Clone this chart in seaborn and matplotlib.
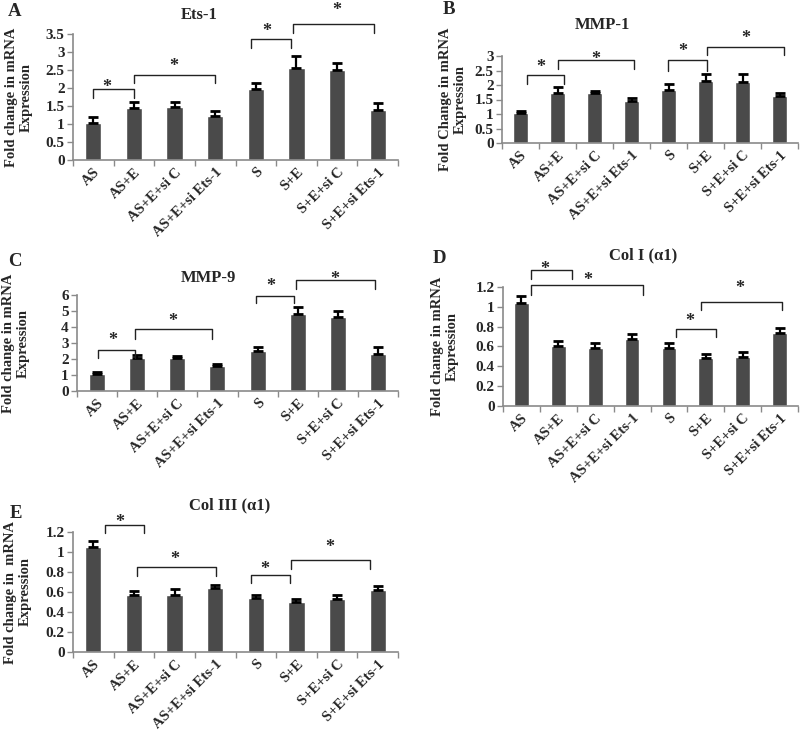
import numpy as np
import pandas as pd
import matplotlib
matplotlib.use("Agg")
import matplotlib.pyplot as plt
from matplotlib.ticker import FuncFormatter, FixedLocator
import seaborn as sns

sns.set_style("ticks")
plt.rcParams['font.family'] = ['Liberation Serif', 'DejaVu Serif']
plt.rcParams['font.weight'] = 'bold'

categories = ["AS", "AS+E", "AS+E+si C", "AS+E+si Ets-1",
              "S", "S+E", "S+E+si C", "S+E+si Ets-1"]

ets1 = [1.04, 1.44, 1.46, 1.21, 1.97, 2.55, 2.50, 1.39]
ets1_err = [0.15, 0.16, 0.16, 0.14, 0.16, 0.34, 0.20, 0.19]

mmp1 = [1.04, 1.72, 1.72, 1.45, 1.84, 2.14, 2.11, 1.62]
mmp1_err = [0.08, 0.22, 0.09, 0.11, 0.21, 0.25, 0.28, 0.10]

mmp9 = [1.04, 2.08, 2.08, 1.55, 2.53, 4.80, 4.63, 2.34]
mmp9_err = [0.12, 0.19, 0.11, 0.12, 0.21, 0.46, 0.38, 0.42]

col1 = [1.035, 0.61, 0.583, 0.675, 0.583, 0.48, 0.49, 0.738]
col1_err = [0.07, 0.05, 0.05, 0.05, 0.05, 0.04, 0.05, 0.048]

col3 = [1.05, 0.57, 0.57, 0.638, 0.545, 0.502, 0.532, 0.62]
col3_err = [0.06, 0.044, 0.057, 0.035, 0.026, 0.033, 0.043, 0.044]

# significance annotations: (x_left, x_right, bracket_top, leg_bottom, star_x, star_y)
sig_A = [(0.00, 0.99, 1.98, 1.72, 0.34, 2.14),
         (1.00, 3.00, 2.37, 2.14, 1.99, 2.73),
         (3.88, 4.87, 3.37, 3.12, 4.28, 3.70),
         (4.91, 6.90, 3.79, 3.54, 5.99, 4.29)]
sig_B = [(0.17, 1.17, 2.34, 2.04, 0.55, 2.79),
         (1.02, 3.07, 2.85, 2.55, 2.04, 3.04),
         (3.99, 5.04, 2.85, 2.50, 4.39, 3.32),
         (5.05, 7.13, 3.32, 3.03, 6.10, 3.78)]
sig_C = [(0.02, 0.94, 2.59, 2.07, 0.40, 3.49),
         (0.94, 2.87, 3.85, 3.22, 1.89, 4.64),
         (3.95, 4.92, 5.94, 5.48, 4.34, 6.84),
         (4.95, 6.92, 6.95, 6.36, 5.92, 7.26)]
sig_D = [(0.27, 1.38, 1.375, 1.284, 0.63, 1.43),
         (0.27, 3.30, 1.224, 1.120, 1.80, 1.32),
         (4.19, 5.27, 0.780, 0.696, 4.56, 0.90),
         (4.88, 7.07, 1.049, 0.965, 5.93, 1.23)]
sig_E = [(0.28, 1.24, 1.273, 1.19, 0.65, 1.34),
         (1.07, 3.01, 0.847, 0.757, 2.00, 0.973),
         (3.87, 4.83, 0.773, 0.690, 4.21, 0.873),
         (4.87, 6.80, 0.923, 0.833, 5.81, 1.09)]

W, H = 800, 732
fig = plt.figure(figsize=(W / 100, H / 100), dpi=100)

BAR = "#4a4a4a"
SPINE = "#8a8a8a"


def px_axes(left, right, y0, ytop):
    return fig.add_axes([left / W, 1 - y0 / H, (right - left) / W, (y0 - ytop) / H])


panels = [
    dict(rect=(73, 398, 160, 34), vals=ets1, err=ets1_err, ymax=3.5, step=0.5,
         title="Ets-1", tpos=(199, 15), letter="A", lpos=(8, 12),
         ylabel="Fold change in mRNA\nExpression", lx=19, sig=sig_A),
    dict(rect=(502, 798, 143, 56), vals=mmp1, err=mmp1_err, ymax=3.0, step=0.5,
         title="MMP-1", tpos=(602, 25), letter="B", lpos=(443, 10),
         ylabel="Fold Change in mRNA\nExpression", lx=453, sig=sig_B),
    dict(rect=(77, 398, 391, 295), vals=mmp9, err=mmp9_err, ymax=6, step=1,
         title="MMP-9", tpos=(208, 278), letter="C", lpos=(8, 261),
         ylabel="Fold change in mRNA\nExpression", lx=16, sig=sig_C),
    dict(rect=(503, 798, 406, 287), vals=col1, err=col1_err, ymax=1.2, step=0.2,
         title="Col I (α1)", tpos=(643, 255), letter="D", lpos=(433, 258),
         ylabel="Fold change in mRNA\nExpression", lx=445, sig=sig_D),
    dict(rect=(73, 398, 652, 532), vals=col3, err=col3_err, ymax=1.2, step=0.2,
         title="Col III (α1)", tpos=(230, 505), letter="E", lpos=(10, 513),
         ylabel="Fold change in  mRNA\nExpression", lx=17.5, sig=sig_E),
]

for p in panels:
    left, right, y0, ytop = p["rect"]
    ax = px_axes(left, right, y0, ytop)
    df = pd.DataFrame({"cat": categories, "val": p["vals"]})
    sns.barplot(data=df, x="cat", y="val", color=BAR, saturation=1,
                width=0.4, errorbar=None, ax=ax, zorder=2)
    x = np.arange(len(categories))
    ax.errorbar(x, p["vals"], yerr=[np.zeros(len(x)), p["err"]], fmt="none",
                ecolor="black", elinewidth=1.6, capsize=3.4, capthick=2.0, zorder=3)
    ax.set_xlim(-0.5, 7.5)
    ax.set_ylim(0, p["ymax"])
    ticks = np.round(np.arange(0, p["ymax"] + 1e-9, p["step"]), 2)
    ax.set_yticks(ticks)
    ax.yaxis.set_major_formatter(FuncFormatter(lambda v, pos: "%g" % v))
    ax.tick_params(axis="y", labelsize=11, length=4, width=1, color=SPINE, pad=2)
    # x: ticks at category boundaries, labels at centers
    ax.xaxis.set_major_locator(FixedLocator(np.arange(-0.5, 8, 1)))
    ax.xaxis.set_minor_locator(FixedLocator(x))
    ax.set_xticklabels([], minor=False)
    ax.set_xticklabels(categories, minor=True, rotation=45, ha="right",
                       rotation_mode="anchor", fontsize=10.5, fontweight="bold")
    ax.tick_params(axis="x", which="major", length=4, width=1, color=SPINE)
    ax.tick_params(axis="x", which="minor", length=0, pad=4)
    for lab in ax.get_yticklabels():
        lab.set_fontweight("bold")
    ax.set_xlabel("")
    ax.set_ylabel(p["ylabel"], fontsize=10.5, fontweight="bold", linespacing=1.15)
    ax.yaxis.label.set_va("center")
    ax.yaxis.set_label_coords((p["lx"] - left) / (right - left), 0.5)
    for s in ["top", "right"]:
        ax.spines[s].set_visible(False)
    for s in ["left", "bottom"]:
        ax.spines[s].set_color(SPINE)
        ax.spines[s].set_linewidth(1.2)
    # significance brackets
    for (xl, xr, yt, yb, sx, sy) in p["sig"]:
        ax.plot([xl, xl, xr, xr], [yb, yt, yt, yb], color="#222222", lw=1.0,
                clip_on=False, zorder=4)
        ax.annotate("*", (sx, sy), xytext=(0, -6.8), textcoords="offset points",
                    ha="center", va="baseline", fontsize=13, fontweight="bold",
                    annotation_clip=False)
    fig.text(p["tpos"][0] / W, 1 - p["tpos"][1] / H, p["title"], ha="center",
             va="center", fontsize=12, fontweight="bold")
    fig.text(p["lpos"][0] / W, 1 - p["lpos"][1] / H, p["letter"], ha="left",
             va="center", fontsize=13.5, fontweight="bold")

fig.savefig("out.png", dpi=100, facecolor="white")
